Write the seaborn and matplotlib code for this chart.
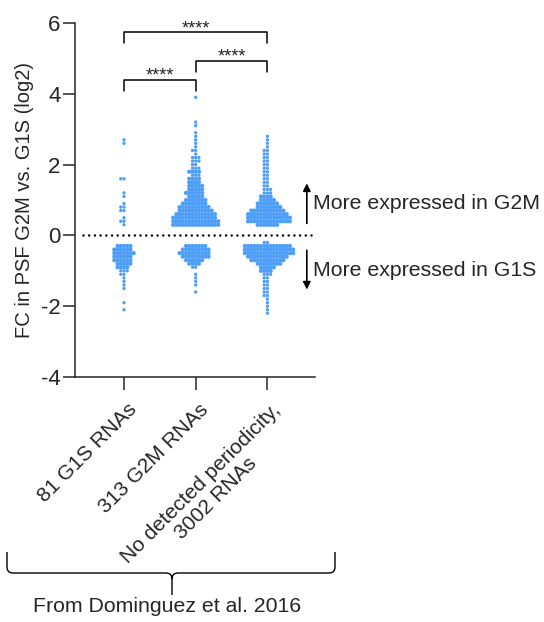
import numpy as np
import pandas as pd
import matplotlib
matplotlib.use("Agg")
import matplotlib.pyplot as plt
import matplotlib.transforms as mtransforms
from matplotlib.path import Path
from matplotlib.patches import PathPatch
import seaborn as sns

sns.set_style("ticks")
plt.rcParams["font.family"] = ["Liberation Sans", "DejaVu Sans"]
plt.rcParams["axes.unicode_minus"] = False

groups = ["81 G1S RNAs", "313 G2M RNAs", "No detected periodicity,\n3002 RNAs"]

# fold change (log2), as value bins and number of visible dots per bin
g1s_fc = [2.7, 2.6, 1.6, 1.2, 1.1, 0.9, 0.8, 0.7, 0.5, 0.4, 0.3,
          -0.3, -0.4, -0.5, -0.6, -0.7, -0.8, -0.9, -1.0, -1.1, -1.2, -1.3, -1.4, -1.5, -1.9, -2.1]
g1s_n = [1, 1, 2, 1, 1, 1, 2, 2, 1, 2, 1,
         5, 6, 7, 6, 6, 5, 4, 3, 2, 1, 1, 1, 1, 1, 1]

g2m_fc = [3.9, 3.2, 3.1, 2.9, 2.8, 2.7, 2.6, 2.5, 2.4, 2.3, 2.2, 2.1, 2.0, 1.9, 1.8, 1.7, 1.6,
          1.5, 1.4, 1.3, 1.2, 1.1, 1.0, 0.9, 0.8, 0.7, 0.6, 0.5, 0.4, 0.3,
          -0.3, -0.4, -0.5, -0.6, -0.7, -0.8, -0.9, -1.1, -1.2, -1.3, -1.4, -1.6]
g2m_n = [1, 1, 1, 1, 1, 1, 1, 1, 2, 1, 3, 3, 2, 3, 4, 3, 4,
         4, 5, 5, 6, 5, 7, 8, 10, 11, 13, 14, 15, 15,
         7, 9, 10, 9, 6, 4, 2, 1, 1, 1, 1, 1]

other_fc = [2.8, 2.7, 2.6, 2.5, 2.4, 2.3, 2.2, 2.1, 2.0, 1.9, 1.8, 1.7, 1.6, 1.5, 1.4,
            1.3, 1.2, 1.1, 1.0, 0.9, 0.8, 0.7, 0.6, 0.5, 0.4, 0.3,
            -0.2, -0.3, -0.4, -0.5, -0.6, -0.7, -0.8, -0.9, -1.0, -1.1, -1.2, -1.3, -1.4,
            -1.5, -1.6, -1.7, -1.8, -1.9, -2.0, -2.1, -2.2]
other_n = [1, 1, 1, 1, 2, 2, 2, 2, 2, 2, 2, 2, 2, 2, 2,
           3, 3, 4, 5, 7, 8, 11, 13, 14, 14, 7,
           2, 15, 16, 16, 13, 11, 8, 5, 4, 3, 2, 2, 2,
           2, 2, 2, 1, 1, 1, 1, 1]

blue = "#4f9ef8"

df = pd.concat([
    pd.DataFrame({"group": g, "fc": np.repeat(v, n)})
    for g, v, n in [(groups[0], g1s_fc, g1s_n),
                    (groups[1], g2m_fc, g2m_n),
                    (groups[2], other_fc, other_n)]
], ignore_index=True)

W, H = 544, 622
fig = plt.figure(figsize=(W / 100, H / 100), dpi=100)
ax = fig.add_axes([75 / W, 1 - 377 / H, 240 / W, 354 / H])

sns.swarmplot(data=df, x="group", y="fc", order=groups, color=blue,
              size=2.2, linewidth=0, ax=ax, warn_thresh=1)

ax.set_xlim(-0.683, 2.664)
ax.set_ylim(-4, 6)
ax.set_yticks([-4, -2, 0, 2, 4, 6])
ax.set_yticklabels(["-4", "-2", "0", "2", "4", "6"])
ax.set_xlabel("")
ax.set_ylabel("FC in PSF G2M vs. G1S (log2)", fontsize=14.5, labelpad=5)
sns.despine(ax=ax)
for s in ["left", "bottom"]:
    ax.spines[s].set_linewidth(1.1)
ax.tick_params(axis="y", labelsize=16, length=8.5, width=1.1, pad=2)
ax.tick_params(axis="x", labelsize=15, length=9.5, width=1.1, pad=7)

offset = mtransforms.ScaledTranslation(0.03, 0, fig.dpi_scale_trans)
for lab in ax.get_xticklabels():
    lab.set_rotation(45)
    lab.set_ha("right")
    lab.set_va("top")
    lab.set_rotation_mode("anchor")
    lab.set_multialignment("center")
    lab.set_transform(lab.get_transform() + offset)

# dotted zero line
ax.plot([-0.57, 2.62], [0, 0], color="black", lw=1.8,
        linestyle=(0, (0.01, 2.27)), dash_capstyle="round", clip_on=False)

# significance brackets
brackets = [(0, 2, 5.74, 5.44), (1, 2, 4.93, 4.62), (0, 1, 4.39, 4.09)]
for x0, x1, ytop, yend in brackets:
    ax.plot([x0, x0, x1, x1], [yend, ytop, ytop, yend], color="black",
            lw=1.1, clip_on=False)
    ax.text((x0 + x1) / 2, ytop + 0.1, "****", ha="center", va="center",
            fontsize=13, clip_on=False)

# direction arrows
for y0, y1 in [(0.34, 1.47), (-0.42, -1.53)]:
    ax.annotate("", xy=(2.55, y1), xytext=(2.55, y0),
                arrowprops=dict(arrowstyle="-|>", color="black", lw=1.2,
                                mutation_scale=11, shrinkA=0, shrinkB=0),
                annotation_clip=False)
ax.text(2.63, 0.9, "More expressed in G2M", ha="left", va="center",
        fontsize=15.3, clip_on=False)
ax.text(2.63, -0.99, "More expressed in G1S", ha="left", va="center",
        fontsize=15.3, clip_on=False)

# curly brace under the labels (figure pixel coordinates)
px = mtransforms.Affine2D().scale(1 / W, -1 / H).translate(0, 1) + fig.transFigure
xl, xr, xm = 7, 335, 172
yt, yl, yb, r = 552, 573, 595, 6
verts = [
    (xl, yt), (xl, yl - r), (xl, yl), (xl + r, yl),
    (xm - r, yl), (xm, yl), (xm, yl + r), (xm, yb),
    (xm, yl + r), (xm, yl), (xm + r, yl),
    (xr - r, yl), (xr, yl), (xr, yl - r), (xr, yt),
]
codes = [Path.MOVETO, Path.LINETO, Path.CURVE3, Path.CURVE3,
         Path.LINETO, Path.CURVE3, Path.CURVE3, Path.LINETO,
         Path.MOVETO, Path.CURVE3, Path.CURVE3,
         Path.LINETO, Path.CURVE3, Path.CURVE3, Path.LINETO]
fig.patches.append(PathPatch(Path(verts, codes), transform=px, fill=False,
                             edgecolor="black", lw=1.0))
fig.text(167.5 / W, 1 - 607 / H, "From Dominguez et al. 2016", ha="center",
         va="center", fontsize=15.3)

# lay the swarm out once, then redraw the dots larger in crowded rows so they
# merge into a solid shape like the reference; lone dots stay small
fig.canvas.draw()
for coll in ax.collections:
    if "draw" in coll.__dict__:
        del coll.draw
        y = pd.Series(np.round(coll.get_offsets()[:, 1], 2))
        crowd = y.map(y.value_counts()).to_numpy()
        coll.set_sizes(np.where(crowd >= 4, 3.1, 2.4) ** 2)

fig.savefig("out.png", dpi=100)
